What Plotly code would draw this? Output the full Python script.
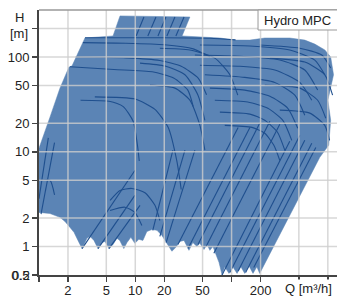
import plotly.graph_objects as go

# ---------------- data (Q in m3/h, H in m) ----------------
envelope_q = [1.0, 1.0, 1.30, 1.65, 2.05, 2.20, 3.0, 5.87, 6.94, 36.9, 30.6, 46.9, 75.6, 108, 155, 221, 402,
              576, 732, 930, 1070, 1145, 1000, 1070, 1020, 825, 211, 196, 183, 167, 151, 137, 125, 114, 103,
              94, 85, 79.7, 74, 69, 64, 59.5, 55.6, 51.7, 46.9, 43.6, 39.6, 36.1, 32.1, 29.1, 26.4, 24.0,
              21.3, 18.9, 16.8, 14.9, 13.2, 12.0, 10.9, 9.9, 9.0, 8.2, 7.6, 6.9, 6.45, 5.87, 5.33, 4.85,
              4.51, 4.1, 3.72, 3.38, 3.15, 2.80, 2.54, 2.31, 2.10, 1.86, 1.65, 1.30, 1.0]
envelope_h = [2.29, 10.9, 23.2, 46.9, 78.5, 80.4, 159, 167, 272, 265, 167, 163, 159, 151, 151, 159, 159,
              151, 137, 119, 100, 65, 35.1, 21.5, 11.7, 8.75, 0.585, 0.52, 0.61, 0.52, 0.63, 0.52, 0.61,
              0.52, 0.61, 0.52, 0.61, 0.50, 0.68, 0.84, 1.0, 0.91, 1.05, 0.93, 1.08, 1.0, 1.10, 0.91, 1.16,
              1.13, 0.98, 0.89, 1.08, 1.31, 1.48, 1.51, 1.44, 1.16, 1.19, 1.08, 1.25, 1.10, 0.95, 1.16,
              1.22, 1.05, 0.95, 1.13, 1.10, 0.95, 1.16, 1.28, 1.22, 0.95, 1.16, 1.41, 1.59, 1.84, 2.03,
              2.23, 2.29]

# pump curves (flat, then drooping)
curves_q = [
    [3.0, 20, 60, 110],
    [2.86, 8, 20, 40, 60],
    [2.4, 8, 18, 30, 45, 55],
    [2.1, 6, 15, 25, 35, 40],
    [2.7, 5.5, 7.5, 9.5, 10.5, 11],
    [3.8, 10, 16, 22, 27, 30],
    [46.9, 155, 402, 732, 930],
    [41.6, 122, 317, 576, 784],
    [46.9, 122, 281, 511, 681],
    [52.8, 137, 281, 454, 576],
    [59.5, 137, 250, 384, 487],
    [67, 147, 238, 341, 422],
    [75.6, 155, 221, 300, 357],
    [85, 163, 221, 275, 317],
    [196, 511, 866, 1070],
    [250, 576, 930, 1120],
    [221, 511, 784, 952],
    [317, 649, 930, 1043],
    [18, 36.9, 67, 96, 116],
    [11.2, 20.4, 32.8, 44.8, 52.8],
    [14.2, 25.8, 36.9, 46.9, 52.8],
    [5.47, 6.94, 9.2, 12.6, 16, 18],
    [5.47, 7.8, 9.9, 11.7],
    [1.0, 1.3, 1.45],
]
curves_h = [
    [160, 160, 158, 152],
    [142, 140, 135, 122, 100],
    [100, 98, 92, 80, 60, 40],
    [79, 74, 70, 60, 45, 30],
    [35, 34, 30, 21, 12, 8],
    [38, 36, 28, 18, 8, 4],
    [134, 131, 119, 93, 65],
    [105, 102, 93, 73, 44.8],
    [82, 80, 73, 54, 35],
    [65, 61, 54, 39.6, 24.3],
    [47, 44.8, 38.6, 28.8, 17.7],
    [35, 33.5, 28.8, 21.5, 13.2],
    [26.2, 25, 21.5, 16.1, 10.4],
    [19, 18.1, 15.7, 11.7, 8.1],
    [134, 124, 105, 76.6],
    [97.5, 88.5, 65, 39.6],
    [50.5, 47, 35, 22.6],
    [27.5, 25.6, 19, 13.2],
    [124, 119, 97.5, 65, 39.6],
    [86.4, 80.4, 65, 39.6, 21.5],
    [50.5, 47, 35.1, 19, 10.4],
    [3.07, 3.91, 4.1, 3.7, 2.72, 1.88],
    [2.4, 2.6, 2.29, 1.67],
    [5.0, 5.0, 3.5],
]

# min-speed / system lines (two end points each)
lines_q = [
    [79.7, 402], [96, 511], [117, 576], [140, 681], [170, 750],
    [65.5, 317], [54.4, 250], [44.8, 196], [35.3, 155], [27.7, 117],
    [15.2, 24.6], [18, 32.8], [20.9, 41.6],
    [2.8, 9.9], [4.1, 9.9], [5.33, 11.2],
    [1.05, 1.45], [1.0, 1.25],
    [10.2, 12.3], [13.5, 16.4], [17.2, 20.8], [21.3, 25.8], [26.4, 32.1],
]
lines_h = [
    [0.50, 12.9], [0.53, 14.9], [0.55, 13.2], [0.53, 12.3], [0.6, 11.1],
    [0.85, 19.5], [1.0, 21], [1.05, 20], [0.95, 18.1], [1.05, 18.1],
    [1.48, 10.4], [1.28, 10.4], [1.1, 10.4],
    [0.95, 6.35], [0.95, 3.46], [0.95, 2.72],
    [2.2, 12.5], [3.2, 14],
    [167, 265], [167, 265], [167, 265], [167, 265], [167, 265],
]

x_tickvals = [1, 2, 5, 10, 20, 50, 100, 200, 500, 1000]
x_ticktext = ["", "2", "5", "10", "20", "50", "", "200", "", ""]
y_tickvals = [0.5, 1, 2, 5, 10, 20, 50, 100, 200]
y_ticktext = ["0.5", "1", "2", "5", "10", "20", "50", "100", ""]
legend_label = "Hydro MPC"

# ---------------- figure ----------------
FILL = "#5b84b5"
LINE = "#1f4f8e"
FONT = "Liberation Sans, Arial, sans-serif"

fig = go.Figure()
fig.add_trace(go.Scatter(x=envelope_q, y=envelope_h, mode="lines", fill="toself",
                         fillcolor=FILL, line=dict(color=FILL, width=0.5), hoverinfo="skip"))
for q, h in zip(curves_q, curves_h):
    fig.add_trace(go.Scatter(x=q, y=h, mode="lines", line=dict(color=LINE, width=1.1, shape="spline", smoothing=0.6),
                             hoverinfo="skip"))
for q, h in zip(lines_q, lines_h):
    fig.add_trace(go.Scatter(x=q, y=h, mode="lines", line=dict(color=LINE, width=1.1), hoverinfo="skip"))

shapes = []
for v in x_tickvals[1:]:
    shapes.append(dict(type="line", xref="x", yref="paper", x0=v, x1=v, y0=0, y1=1,
                       line=dict(color="rgba(205,205,205,0.8)", width=1.5), layer="above"))
for v in y_tickvals[1:]:
    shapes.append(dict(type="line", xref="paper", yref="y", x0=0, x1=1, y0=v, y1=v,
                       line=dict(color="rgba(205,205,205,0.8)", width=1.5), layer="above"))
shapes.append(dict(type="line", xref="paper", yref="paper", x0=0, x1=1, y0=1, y1=1,
                   line=dict(color="#999999", width=1.5), layer="above"))
shapes.append(dict(type="rect", xref="paper", yref="paper", x0=0.735, x1=1.02, y0=0.9245, y1=1.0,
                   line=dict(color="#999999", width=1), fillcolor="white", layer="above"))

annotations = [
    dict(text=legend_label, xref="paper", yref="paper", x=0.748, y=0.962, xanchor="left", yanchor="middle",
         showarrow=False, font=dict(size=13, color="#222", family=FONT)),
    dict(text="H", xref="paper", yref="paper", x=-0.067, y=0.970, xanchor="center", yanchor="middle",
         showarrow=False, font=dict(size=13, color="#222", family=FONT)),
    dict(text="[m]", xref="paper", yref="paper", x=-0.067, y=0.913, xanchor="center", yanchor="middle",
         showarrow=False, font=dict(size=13, color="#222", family=FONT)),
    dict(text="Q [m³/h]", xref="paper", yref="paper", x=0.903, y=-0.05, xanchor="center", yanchor="middle",
         showarrow=False, font=dict(size=13, color="#222", family=FONT), bgcolor="white"),
    dict(text="0.2", xref="paper", yref="y", x=0, y=-0.30103, xanchor="right", yanchor="middle", xshift=-7,
         showarrow=False, font=dict(size=13, color="#222", family=FONT)),
]

fig.update_layout(
    width=337, height=297,
    margin=dict(l=39, r=0, t=10, b=22, autoexpand=False),
    paper_bgcolor="white", plot_bgcolor="white",
    showlegend=False,
    shapes=shapes, annotations=annotations,
    font=dict(family=FONT, size=13, color="#222"),
)
fig.update_xaxes(type="log", range=[0, 3.095], tickvals=x_tickvals, ticktext=x_ticktext,
                 ticks="outside", ticklen=5, tickwidth=1.5, tickcolor="#444",
                 showline=True, linecolor="#444", linewidth=2, showgrid=False, zeroline=False,
                 tickfont=dict(size=13, color="#222", family=FONT), layer="above traces",
                 automargin=False, ticklabelstandoff=-3)
fig.update_yaxes(type="log", range=[-0.30103, 2.497], tickvals=y_tickvals, ticktext=y_ticktext,
                 ticks="outside", ticklen=5, tickwidth=1.5, tickcolor="#444",
                 showline=True, linecolor="#444", linewidth=2, showgrid=False, zeroline=False,
                 tickfont=dict(size=13, color="#222", family=FONT), layer="above traces",
                 automargin=False)

fig.write_html("out.html", config={"displayModeBar": False, "staticPlot": True},
               post_script="document.body.style.margin='0';document.body.style.overflow='hidden';")
